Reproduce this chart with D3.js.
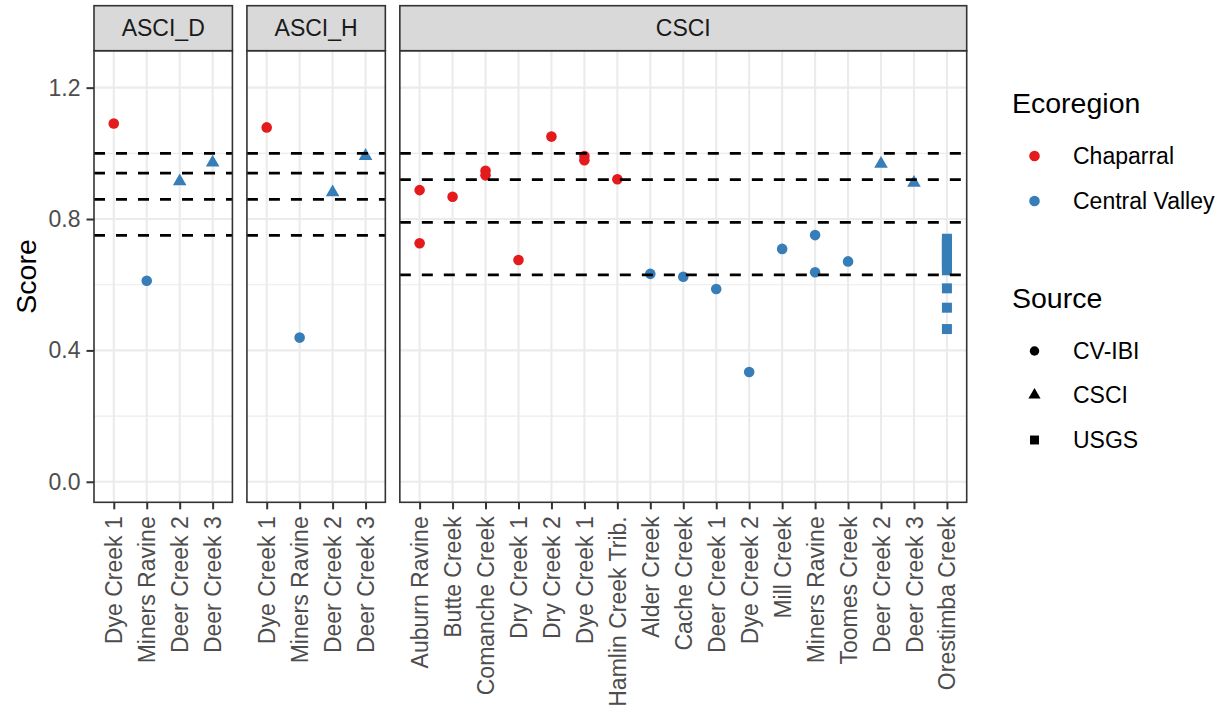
<!DOCTYPE html>
<html>
<head>
<meta charset="utf-8">
<script src="https://cdn.jsdelivr.net/npm/d3@7"></script>
<style>
  html, body { margin: 0; padding: 0; background: #ffffff; }
  svg { display: block; font-family: "Liberation Sans", Arial, Helvetica, sans-serif; }
</style>
</head>
<body>
<svg id="chart" width="1225" height="713"></svg>
<script>
// ---------------- DATA ----------------
const facets = ["ASCI_D", "ASCI_H", "CSCI"];
const asciSites = ["Dye Creek 1", "Miners Ravine", "Deer Creek 2", "Deer Creek 3"];
const csciSites = ["Auburn Ravine", "Butte Creek", "Comanche Creek", "Dry Creek 1", "Dry Creek 2",
  "Dye Creek 1", "Hamlin Creek Trib.", "Alder Creek", "Cache Creek", "Deer Creek 1", "Dye Creek 2",
  "Mill Creek", "Miners Ravine", "Toomes Creek", "Deer Creek 2", "Deer Creek 3", "Orestimba Creek"];
const asciThresholds = [1.0, 0.94, 0.86, 0.75];
const csciThresholds = [1.0, 0.92, 0.79, 0.63];
const yTicks = [0.0, 0.4, 0.8, 1.2];
const yMinor = [0.2, 0.6, 1.0];
const ecoregions = ["Chaparral", "Central Valley"];
const sources = ["CV-IBI", "CSCI", "USGS"];

const pointFacet = [
  "ASCI_D", "ASCI_D", "ASCI_D", "ASCI_D",
  "ASCI_H", "ASCI_H", "ASCI_H", "ASCI_H",
  "CSCI", "CSCI", "CSCI", "CSCI", "CSCI", "CSCI", "CSCI", "CSCI", "CSCI", "CSCI",
  "CSCI", "CSCI", "CSCI", "CSCI", "CSCI", "CSCI", "CSCI", "CSCI", "CSCI", "CSCI",
  "CSCI", "CSCI", "CSCI", "CSCI", "CSCI", "CSCI", "CSCI", "CSCI", "CSCI", "CSCI",
  "CSCI", "CSCI", "CSCI", "CSCI", "CSCI"
];
const pointSite = [
  "Dye Creek 1", "Miners Ravine", "Deer Creek 2", "Deer Creek 3",
  "Dye Creek 1", "Miners Ravine", "Deer Creek 2", "Deer Creek 3",
  "Auburn Ravine", "Auburn Ravine", "Butte Creek", "Comanche Creek", "Comanche Creek",
  "Dry Creek 1", "Dry Creek 2", "Dye Creek 1", "Dye Creek 1", "Hamlin Creek Trib.",
  "Alder Creek", "Cache Creek", "Deer Creek 1", "Dye Creek 2", "Mill Creek",
  "Miners Ravine", "Miners Ravine", "Toomes Creek", "Deer Creek 2", "Deer Creek 3",
  "Orestimba Creek", "Orestimba Creek", "Orestimba Creek", "Orestimba Creek", "Orestimba Creek",
  "Orestimba Creek", "Orestimba Creek", "Orestimba Creek", "Orestimba Creek", "Orestimba Creek",
  "Orestimba Creek", "Orestimba Creek", "Orestimba Creek", "Orestimba Creek", "Orestimba Creek"
];
const pointScore = [
  1.091, 0.612, 0.915, 0.972,
  1.079, 0.439, 0.881, 0.992,
  0.888, 0.726, 0.868, 0.947, 0.933,
  0.675, 1.051, 0.992, 0.979, 0.921,
  0.633, 0.624, 0.587, 0.334, 0.709,
  0.751, 0.638, 0.671, 0.968, 0.910,
  0.740, 0.733, 0.725, 0.716, 0.707,
  0.698, 0.689, 0.680, 0.671, 0.662,
  0.653, 0.644, 0.589, 0.530, 0.465
];
const pointRegion = [
  "Chaparral", "Central Valley", "Central Valley", "Central Valley",
  "Chaparral", "Central Valley", "Central Valley", "Central Valley",
  "Chaparral", "Chaparral", "Chaparral", "Chaparral", "Chaparral",
  "Chaparral", "Chaparral", "Chaparral", "Chaparral", "Chaparral",
  "Central Valley", "Central Valley", "Central Valley", "Central Valley", "Central Valley",
  "Central Valley", "Central Valley", "Central Valley", "Central Valley", "Central Valley",
  "Central Valley", "Central Valley", "Central Valley", "Central Valley", "Central Valley",
  "Central Valley", "Central Valley", "Central Valley", "Central Valley", "Central Valley",
  "Central Valley", "Central Valley", "Central Valley", "Central Valley", "Central Valley"
];
const pointSource = [
  "CV-IBI", "CV-IBI", "CSCI", "CSCI",
  "CV-IBI", "CV-IBI", "CSCI", "CSCI",
  "CV-IBI", "CV-IBI", "CV-IBI", "CV-IBI", "CV-IBI",
  "CV-IBI", "CV-IBI", "CV-IBI", "CV-IBI", "CV-IBI",
  "CV-IBI", "CV-IBI", "CV-IBI", "CV-IBI", "CV-IBI",
  "CV-IBI", "CV-IBI", "CV-IBI", "CSCI", "CSCI",
  "USGS", "USGS", "USGS", "USGS", "USGS",
  "USGS", "USGS", "USGS", "USGS", "USGS",
  "USGS", "USGS", "USGS", "USGS", "USGS"
];

// ---------------- LAYOUT ----------------
const svg = d3.select("#chart");
const plotLeft = 94, plotRight = 966.7, gap = 14.5;
const panelTop = 50.7, panelBottom = 502.3, stripTop = 5.7;
const fontSmall = 23, fontTitle = 28.5;

const facetSites = { "ASCI_D": asciSites, "ASCI_H": asciSites, "CSCI": csciSites };
const facetThr = { "ASCI_D": asciThresholds, "ASCI_H": asciThresholds, "CSCI": csciThresholds };
const units = facets.map(f => facetSites[f].length - 1 + 1.2);
const totalUnits = d3.sum(units);
const step = (plotRight - plotLeft - gap * (facets.length - 1)) / totalUnits;

const panels = [];
let cursor = plotLeft;
facets.forEach((f, i) => {
  const w = units[i] * step;
  const x = d3.scalePoint().domain(facetSites[f]).range([cursor, cursor + w]).padding(0.6);
  panels.push({ facet: f, x0: cursor, x1: cursor + w, x });
  cursor += w + gap;
});

const y = d3.scaleLinear().domain([-0.0625, 1.3125]).range([panelBottom, panelTop]);

const color = d3.scaleOrdinal().domain(ecoregions).range(["#E41A1C", "#377EB8"]);
const symType = d3.scaleOrdinal().domain(sources).range([d3.symbolCircle, d3.symbolTriangle, d3.symbolSquare]);
const symSize = d3.scaleOrdinal().domain(sources).range([88, 80, 100]);

const points = pointScore.map((v, i) => ({
  facet: pointFacet[i], site: pointSite[i], score: v, region: pointRegion[i], source: pointSource[i]
}));

const gridColor = "#ebebeb";
const borderColor = "#333333";

panels.forEach(p => {
  const g = svg.append("g");
  g.append("rect").attr("x", p.x0).attr("y", panelTop).attr("width", p.x1 - p.x0)
    .attr("height", panelBottom - panelTop).attr("fill", "#ffffff");
  g.selectAll(".minor").data(yMinor).enter().append("line")
    .attr("x1", p.x0).attr("x2", p.x1).attr("y1", d => y(d)).attr("y2", d => y(d))
    .attr("stroke", gridColor).attr("stroke-width", 1.1);
  g.selectAll(".majorh").data(yTicks).enter().append("line")
    .attr("x1", p.x0).attr("x2", p.x1).attr("y1", d => y(d)).attr("y2", d => y(d))
    .attr("stroke", gridColor).attr("stroke-width", 2.1);
  g.selectAll(".majorv").data(p.x.domain()).enter().append("line")
    .attr("x1", d => p.x(d)).attr("x2", d => p.x(d)).attr("y1", panelTop).attr("y2", panelBottom)
    .attr("stroke", gridColor).attr("stroke-width", 2.1);

  g.selectAll(".pt").data(points.filter(d => d.facet === p.facet)).enter().append("path")
    .attr("transform", d => `translate(${p.x(d.site)},${y(d.score)})`)
    .attr("d", d => d3.symbol().type(symType(d.source)).size(symSize(d.source))())
    .attr("fill", d => color(d.region));

  g.selectAll(".thr").data(facetThr[p.facet]).enter().append("line")
    .attr("x1", p.x0).attr("x2", p.x1).attr("y1", d => y(d)).attr("y2", d => y(d))
    .attr("stroke", "#000000").attr("stroke-width", 2.8).attr("stroke-dasharray", "11,11");

  g.append("rect").attr("x", p.x0).attr("y", panelTop).attr("width", p.x1 - p.x0)
    .attr("height", panelBottom - panelTop).attr("fill", "none")
    .attr("stroke", borderColor).attr("stroke-width", 1.6);

  g.append("rect").attr("x", p.x0).attr("y", stripTop).attr("width", p.x1 - p.x0)
    .attr("height", panelTop - stripTop).attr("fill", "#d9d9d9")
    .attr("stroke", borderColor).attr("stroke-width", 1.6);
  g.append("text").attr("x", (p.x0 + p.x1) / 2).attr("y", (stripTop + panelTop) / 2)
    .attr("dy", "0.36em").attr("text-anchor", "middle")
    .attr("font-size", fontSmall).attr("fill", "#1a1a1a").text(p.facet);

  const xAxis = d3.axisBottom(p.x).tickSize(7).tickPadding(0);
  const ax = g.append("g").attr("transform", `translate(0,${panelBottom})`).call(xAxis);
  ax.select(".domain").remove();
  ax.selectAll(".tick line").attr("stroke", borderColor).attr("stroke-width", 2);
  ax.selectAll(".tick text")
    .attr("font-size", fontSmall).attr("fill", "#4d4d4d")
    .attr("font-family", "Liberation Sans, Arial, sans-serif")
    .attr("text-anchor", "end")
    .attr("transform", "translate(0,14) rotate(-90)")
    .attr("x", 0).attr("y", 0).attr("dy", "0.35em");
});

const yAxis = d3.axisLeft(y).tickValues(yTicks).tickFormat(d3.format(".1f")).tickSize(7.5).tickPadding(6);
const yg = svg.append("g").attr("transform", `translate(${plotLeft},0)`).call(yAxis);
yg.select(".domain").remove();
yg.selectAll(".tick line").attr("stroke", borderColor).attr("stroke-width", 2);
yg.selectAll(".tick text").attr("font-size", fontSmall).attr("fill", "#4d4d4d")
  .attr("font-family", "Liberation Sans, Arial, sans-serif");

svg.append("text")
  .attr("transform", `translate(36,${(panelTop + panelBottom) / 2}) rotate(-90)`)
  .attr("text-anchor", "middle").attr("font-size", fontTitle).attr("fill", "#000000")
  .text("Score");

const lx = 1012, keyX = 1034.5, textX = 1073;
svg.append("text").attr("x", lx).attr("y", 113).attr("font-size", fontTitle).text("Ecoregion");
const ecoY = [156, 201];
ecoregions.forEach((e, i) => {
  svg.append("path").attr("transform", `translate(${keyX},${ecoY[i]})`)
    .attr("d", d3.symbol().type(d3.symbolCircle).size(88)()).attr("fill", color(e));
  svg.append("text").attr("x", textX).attr("y", ecoY[i]).attr("dy", "0.36em")
    .attr("font-size", fontSmall).attr("fill", "#000000").text(e);
});
svg.append("text").attr("x", lx).attr("y", 307.5).attr("font-size", fontTitle).text("Source");
const srcY = [351, 395, 440];
sources.forEach((s, i) => {
  svg.append("path").attr("transform", `translate(${keyX},${srcY[i]})`)
    .attr("d", d3.symbol().type(symType(s)).size(symSize(s) * 0.8)()).attr("fill", "#000000");
  svg.append("text").attr("x", textX).attr("y", srcY[i]).attr("dy", "0.36em")
    .attr("font-size", fontSmall).attr("fill", "#000000").text(s);
});
</script>
</body>
</html>
